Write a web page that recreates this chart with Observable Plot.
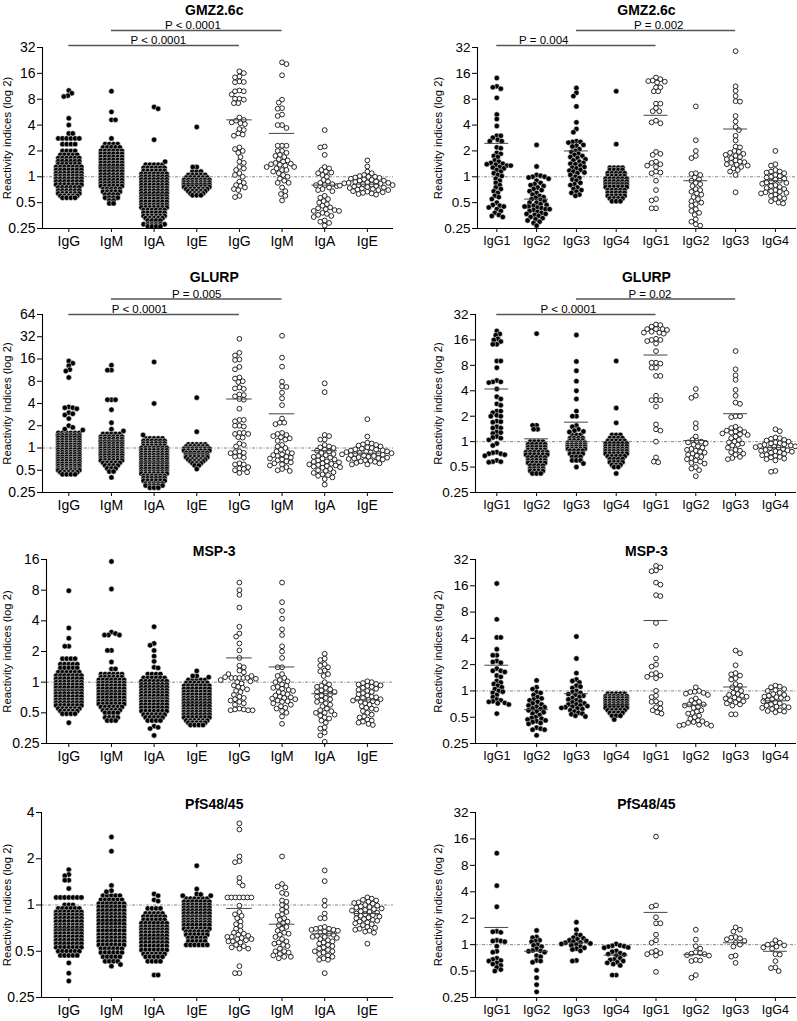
<!DOCTYPE html>
<html><head><meta charset="utf-8">
<script src="https://cdn.jsdelivr.net/npm/d3@7"></script>
<script src="https://cdn.jsdelivr.net/npm/@observablehq/plot@0.6"></script>
<style>
body{margin:0;background:#fff;}
#fig{position:relative;width:797px;height:1021px;overflow:hidden;background:#fff;}
#fig svg{position:absolute;overflow:visible;}
</style>
</head><body><div id="fig"></div>
<script>
// ---------- categories ----------
const isoLeft = ["IgG","IgM","IgA","IgE","IgG","IgM","IgA","IgE"];
const isoRight = ["IgG1","IgG2","IgG3","IgG4","IgG1","IgG2","IgG3","IgG4"];
const yTicks = [0.25,0.5,1,2,4,8,16,32,64];
const yLabel = "Reactivity indices (log 2)";

// ---------- data: each group = list of values; [v,n] = a row of n dots at value v ----------
const gmz_iso = [
 [10.1,9.4,8.8,8.6,4.8,4.0,3.2,3.2,[2.8,6],[2.4,4],[2.0,4],[1.8,5],[1.65,6],[1.52,6],[1.4,6],[1.3,7],[1.2,7],[1.1,7],[1.02,7],[0.95,7],[0.88,7],[0.81,7],[0.75,6],[0.69,6],[0.64,6],[0.6,5],[0.57,4]],
 [9.9,5.7,4.6,4.6,2.8,[2.4,4],[2.2,5],[2.0,6],[1.85,6],[1.7,6],[1.57,6],[1.45,6],[1.34,6],[1.24,6],[1.15,6],[1.06,6],[0.98,6],[0.91,6],[0.84,6],[0.78,6],[0.72,5],[0.67,5],[0.62,4],[0.57,4],[0.53,2],[0.49,2]],
 [6.5,6.2,2.7,1.5,[1.38,5],[1.27,6],[1.17,6],[1.08,7],[1.0,7],[0.93,7],[0.86,7],[0.8,7],[0.74,7],[0.69,7],[0.64,7],[0.59,7],[0.55,7],[0.51,7],[0.47,7],[0.44,7],[0.41,6],[0.38,6],[0.35,6],[0.33,5],[0.31,4],[0.28,6],[0.265,4]],
 [3.8,1.3,1.3,[1.15,3],[1.05,5],[0.98,6],[0.92,7],[0.86,7],[0.81,7],[0.76,7],[0.72,6],[0.68,5],[0.64,4],[0.61,3]],
 [16.9,16.1,14.7,14.4,12.9,12.7,12.6,10.1,9.9,9.9,9.1,8.1,8.1,7.9,7.2,7.2,4.9,4.6,4.5,4.3,4.2,4.1,3.6,3.5,3.2,3.1,3.0,2.2,2.1,2.0,1.9,1.7,1.5,1.45,1.3,1.25,1.2,1.1,1.05,1.0,0.88,0.85,0.8,0.78,0.75,0.72,0.7,0.6,0.58],
 [21.5,20.5,15.2,7.9,7.3,6.3,6.2,5.3,5.1,4.0,4.0,3.7,2.3,2.3,2.3,2.0,2.0,1.9,1.8,1.75,1.7,1.6,1.55,1.5,1.45,1.42,1.4,1.38,1.35,1.3,1.3,1.25,1.2,1.2,1.15,1.1,1.05,1.0,0.95,0.9,0.85,0.85,0.75,0.68,0.63,0.6,0.53],
 [3.5,2.25,2.2,1.8,1.3,1.25,1.2,1.15,1.12,1.1,1.05,1.0,0.92,0.88,0.85,0.82,0.8,0.8,0.78,0.75,0.72,0.7,0.68,0.6,0.57,0.55,0.52,0.5,0.48,0.46,0.44,0.43,0.42,0.41,0.4,0.4,0.38,0.37,0.36,0.35,0.34,0.31,0.3,0.29,0.27],
 [1.55,1.32,1.15,1.1,1.05,1.02,1.0,1.0,0.98,0.97,0.95,0.93,0.92,0.9,0.9,0.88,0.87,0.86,0.85,0.85,0.84,0.83,0.82,0.81,0.8,0.8,0.79,0.78,0.77,0.76,0.75,0.74,0.73,0.72,0.71,0.7,0.7,0.68,0.67,0.66,0.65,0.64,0.63,0.62]
];
const gmz_iso_mean = [1.5,1.3,0.62,0.82,4.6,3.2,0.8,0.82];

const gmz_sub = [
 [14.1,11.3,11.0,10.6,8.3,5.3,4.7,3.9,3.0,3.0,2.85,2.7,2.6,2.6,2.2,2.15,1.9,1.85,1.75,1.7,1.55,1.5,1.45,1.42,1.4,1.38,1.35,1.35,1.3,1.28,1.25,1.2,1.15,1.1,1.05,1.02,0.95,0.9,0.85,0.8,0.75,0.72,0.68,0.65,0.6,0.58,0.55,0.5,0.47,0.46,0.45,0.44,0.42,0.4,0.38,0.36,0.35,0.34],
 [2.35,1.32,1.05,1.03,1.0,1.0,0.98,0.95,0.9,0.85,0.82,0.8,0.78,0.75,0.72,0.7,0.68,0.65,0.62,0.6,0.58,0.57,0.55,0.54,0.52,0.5,0.5,0.48,0.47,0.46,0.45,0.45,0.44,0.43,0.42,0.42,0.41,0.4,0.39,0.38,0.37,0.37,0.36,0.35,0.34,0.33,0.32,0.31,0.3,0.29,0.27],
 [10.8,9.5,8.7,6.6,4.3,3.6,3.3,2.6,2.55,2.55,2.5,2.35,2.3,2.25,2.1,2.0,1.95,1.85,1.8,1.75,1.7,1.65,1.6,1.55,1.5,1.45,1.42,1.4,1.35,1.3,1.28,1.25,1.2,1.18,1.15,1.12,1.1,1.05,1.0,0.97,0.93,0.9,0.85,0.82,0.8,0.75,0.72,0.7,0.67,0.65,0.62,0.6],
 [9.9,2.4,[1.28,4],[1.2,4],[1.1,5],[1.02,5],[0.95,6],[0.88,6],[0.82,6],[0.76,6],[0.7,5],[0.65,5],[0.6,5],[0.56,4],[0.52,3]],
 [14.3,13.7,13.2,13.0,12.8,12.5,11.0,11.0,9.9,9.9,7.1,7.1,6.3,5.8,5.8,4.5,4.3,4.2,1.95,1.85,1.8,1.5,1.45,1.4,1.35,1.3,1.15,1.12,1.1,0.9,0.7,0.55,0.53,0.43,0.43],
 [6.6,2.66,2.0,1.75,1.65,1.1,1.08,1.05,0.98,0.93,0.9,0.85,0.82,0.78,0.72,0.7,0.67,0.64,0.62,0.58,0.55,0.52,0.5,0.48,0.46,0.42,0.4,0.38,0.36,0.32,0.3,0.28,0.27],
 [29,11.3,10.0,8.7,7.6,7.5,5.1,4.4,3.8,3.5,3.0,2.65,2.25,2.2,2.0,1.95,1.9,1.85,1.8,1.75,1.7,1.65,1.6,1.55,1.5,1.48,1.45,1.4,1.38,1.35,1.3,1.25,1.2,1.15,1.05,0.66],
 [2.0,1.4,1.35,1.2,1.15,1.15,1.12,1.1,1.05,1.02,1.0,0.98,0.95,0.93,0.9,0.88,0.86,0.85,0.83,0.8,0.78,0.76,0.74,0.72,0.7,0.68,0.67,0.66,0.65,0.64,0.62,0.6,0.58,0.56,0.55,0.52,0.5,0.49]
];
const gmz_sub_mean = [2.45,0.55,2.0,0.85,5.2,0.9,3.6,0.9];

const glurp_iso = [
 [15,14,13,11.5,11,9,3.6,3.5,3.5,3.4,3.0,2.9,2.8,2.5,2.0,1.9,1.8,1.75,[1.6,6],[1.48,6],[1.37,6],[1.27,6],[1.18,6],[1.1,6],[1.02,6],[0.95,6],[0.88,6],[0.82,6],[0.76,6],[0.71,6],[0.66,6],[0.61,6],[0.57,6],[0.53,6],[0.5,6],[0.47,5],[0.44,4]],
 [13.2,11.3,11.3,4.5,4.5,4.5,3.3,2.2,1.8,1.7,[1.55,5],[1.42,6],[1.32,6],[1.22,6],[1.13,6],[1.05,6],[0.98,6],[0.91,6],[0.85,6],[0.79,6],[0.73,6],[0.68,6],[0.63,5],[0.58,4],[0.53,3],[0.48,2],0.4],
 [14.6,4.0,1.5,[1.35,5],[1.25,6],[1.15,6],[1.07,6],[1.0,7],[0.93,7],[0.86,7],[0.8,7],[0.74,7],[0.69,7],[0.64,7],[0.6,7],[0.56,7],[0.52,7],[0.48,7],[0.45,7],[0.42,6],[0.39,6],[0.36,6],[0.33,5],[0.31,5],[0.29,3]],
 [4.8,1.66,[1.12,5],[1.05,6],[0.98,7],[0.92,7],[0.86,6],[0.8,6],[0.75,6],[0.7,5],[0.66,4],[0.62,3],[0.58,2],0.52],
 [30,19.4,17.9,15.8,15.5,12.5,11.6,9.0,8.7,8.0,7.8,6.6,6.4,6.3,5.3,5.2,5.0,4.6,4.5,3.4,2.4,2.4,2.3,2.0,2.0,1.95,1.6,1.6,1.55,1.55,1.4,1.38,1.15,1.1,1.05,0.9,0.88,0.86,0.85,0.78,0.76,0.74,0.62,0.6,0.6,0.55,0.53,0.52,0.5,0.47,0.46],
 [33,16.7,12.6,7.9,6.8,6.7,5.6,4.7,3.8,2.5,2.2,2.2,2.1,1.6,1.55,1.5,1.45,1.4,1.35,1.3,1.25,1.1,1.05,1.0,0.95,0.9,0.88,0.85,0.82,0.8,0.78,0.76,0.74,0.72,0.7,0.68,0.66,0.64,0.62,0.6,0.58,0.55,0.52,0.5,0.49],
 [7.5,5.7,1.5,1.45,1.3,1.3,1.1,1.05,1.02,1.0,0.95,0.92,0.9,0.86,0.83,0.8,0.78,0.76,0.74,0.72,0.7,0.68,0.66,0.65,0.64,0.62,0.61,0.6,0.59,0.58,0.57,0.56,0.55,0.54,0.52,0.5,0.49,0.47,0.46,0.44,0.43,0.42,0.4,0.38,0.32],
 [2.45,1.43,1.18,1.15,1.12,1.1,1.08,1.05,1.02,1.0,0.98,0.96,0.95,0.93,0.92,0.9,0.89,0.88,0.87,0.86,0.85,0.84,0.83,0.82,0.81,0.8,0.79,0.78,0.76,0.75,0.74,0.73,0.72,0.71,0.7,0.68,0.67,0.66,0.65,0.63,0.62,0.6,0.6]
];
const glurp_iso_mean = [1.5,1.25,0.65,0.85,4.6,2.9,0.92,0.85];

const glurp_sub = [
 [20.4,18.8,18.2,16.5,16.0,15.3,14.2,14.2,9.0,9.0,7.5,5.3,5.1,5.1,5.0,4.2,3.4,3.2,2.8,2.7,2.3,2.3,2.2,2.05,2.0,2.0,1.75,1.72,1.7,1.5,1.45,1.45,1.3,1.28,1.25,1.15,1.12,1.1,1.05,0.95,0.9,0.75,0.74,0.72,0.72,0.7,0.68,0.6,0.58,0.58,0.57],
 [19,1.56,1.56,1.4,1.4,[1.0,4],[0.93,5],[0.86,5],[0.8,5],[0.75,6],[0.7,6],[0.65,5],[0.6,5],[0.56,5],[0.52,4],[0.48,4],[0.45,4],[0.42,3]],
 [18.3,8.9,6.9,5.2,4.0,3.2,2.3,2.0,2.0,1.55,1.5,1.4,1.35,1.32,1.3,[1.2,3],[1.1,4],[1.03,4],[0.97,5],[0.92,5],[0.87,5],[0.82,5],[0.78,4],[0.72,4],[0.66,3],[0.6,3],0.55,0.5],
 [9,2.5,1.67,[1.2,3],[1.1,4],[1.02,5],[0.95,6],[0.88,6],[0.82,6],[0.77,6],[0.72,6],[0.67,5],[0.62,4],[0.57,4],[0.53,3],[0.5,2],0.42],
 [24.4,24,23,21.5,21.5,21.5,21,20,19.5,19.5,19,16.5,16,16,15.5,14.5,11.8,8.6,8.6,8.4,7.5,7.5,6.0,6.0,3.5,3.1,3.1,3.1,2.6,1.6,1.4,1.35,1.0,0.65,0.58,0.57],
 [4.2,3.5,3.3,1.65,1.45,1.15,1.05,1.02,1.0,0.98,0.95,0.92,0.88,0.85,0.82,0.8,0.78,0.76,0.74,0.72,0.7,0.68,0.66,0.64,0.62,0.6,0.58,0.56,0.55,0.5,0.48,0.46,0.39],
 [11.8,7.2,6.1,5.4,4.1,3.5,2.9,2.8,2.0,2.0,1.95,1.5,1.45,1.4,1.35,1.32,1.3,1.28,1.25,1.22,1.2,1.15,1.1,1.05,1.0,0.98,0.95,0.92,0.9,0.85,0.8,0.78,0.75,0.72,0.7,0.66,0.64,0.62],
 [1.4,1.33,1.12,1.1,1.08,1.05,1.03,1.0,0.98,0.96,0.95,0.93,0.92,0.9,0.89,0.88,0.87,0.86,0.85,0.84,0.82,0.8,0.79,0.78,0.77,0.76,0.75,0.74,0.72,0.7,0.69,0.68,0.66,0.65,0.63,0.62,0.6,0.45,0.44]
];
const glurp_sub_mean = [4.2,1.08,1.7,0.95,10.6,1.03,2.14,0.85];

const msp3_iso = [
 [7.9,3.4,2.7,2.25,2.25,[1.7,4],[1.5,5],[1.38,5],[1.25,6],[1.16,7],[1.08,7],[1.0,7],[0.94,7],[0.88,7],[0.82,7],[0.77,7],[0.72,7],[0.67,7],[0.63,7],[0.59,7],[0.55,6],[0.52,5],[0.49,4],0.4],
 [15.3,8.2,3.1,3.0,2.9,2.9,2.9,2.05,2.05,1.58,1.35,1.35,[1.2,6],[1.12,6],[1.05,7],[0.98,7],[0.92,7],[0.86,7],[0.8,7],[0.75,7],[0.7,7],[0.65,7],[0.61,7],[0.57,6],[0.53,5],[0.5,4],[0.45,4],[0.42,3]],
 [3.5,2.4,2.3,2.05,1.8,1.6,1.4,1.38,[1.2,4],[1.1,6],[1.02,7],[0.95,7],[0.89,7],[0.83,7],[0.78,7],[0.73,7],[0.68,7],[0.64,7],[0.6,7],[0.56,7],[0.52,7],[0.48,6],[0.45,5],[0.42,4],0.37,0.36,0.35,0.3],
 [1.29,1.15,1.15,1.12,[1.05,5],[0.98,6],[0.92,7],[0.86,7],[0.8,7],[0.75,7],[0.7,7],[0.66,7],[0.62,7],[0.58,7],[0.54,7],[0.51,7],[0.48,7],[0.45,7],[0.42,6],[0.4,5],[0.38,4]],
 [9.5,8.0,7.2,5.4,3.5,3.0,2.8,2.4,2.05,1.73,1.45,1.4,1.3,1.25,1.2,1.15,1.12,[1.1,5],1.08,1.05,1.02,1.0,0.97,0.93,0.9,0.88,0.85,0.82,0.8,0.75,0.72,0.7,0.68,0.66,0.64,0.62,0.6,0.55,0.54,0.54,0.53,0.53,0.53],
 [9.5,6.1,5.0,4.2,3.3,2.9,2.25,2.0,1.73,1.4,1.4,1.2,1.15,1.1,1.05,1.02,1.0,0.95,0.92,0.9,0.88,0.86,0.84,0.82,0.8,0.78,0.76,0.74,0.72,0.71,0.7,0.69,0.68,0.66,0.65,0.64,0.62,0.6,0.58,0.56,0.55,0.52,0.5,0.46,0.39],
 [1.9,1.7,1.65,1.5,1.45,1.4,1.3,1.28,1.2,1.15,1.0,0.95,0.92,0.9,0.88,0.85,0.83,0.8,0.8,0.78,0.76,0.74,0.72,0.7,0.68,0.66,0.64,0.62,0.6,0.58,0.55,0.53,0.52,0.5,0.5,0.48,0.47,0.45,0.44,0.42,0.4,0.36,0.35,0.32,0.3,0.26],
 [1.02,1.0,0.98,0.96,0.95,0.93,0.92,0.9,0.88,0.86,0.84,0.82,0.8,0.78,0.76,0.74,0.72,0.71,0.7,0.69,0.68,0.67,0.66,0.65,0.64,0.63,0.62,0.6,0.58,0.56,0.55,0.54,0.52,0.5,0.48,0.46,0.45,0.43,0.42,0.41,0.4,0.39,0.38]
];
const msp3_iso_mean = [0.85,0.8,0.7,0.62,1.73,1.41,0.77,0.67];

const msp3_sub = [
 [17,6.6,4.1,4.1,3.0,2.56,2.56,2.2,2.15,2.1,1.8,1.7,1.7,1.65,1.5,1.45,1.3,1.25,1.2,1.15,1.1,1.05,1.0,0.98,0.95,0.9,0.85,0.8,0.78,0.76,0.75,0.73,0.72,0.7,0.55],
 [1.32,1.1,1.05,0.97,0.95,0.9,0.85,0.82,0.8,0.78,0.75,0.72,0.7,0.68,0.66,0.65,0.63,0.62,0.6,0.58,0.57,0.55,0.53,0.5,0.49,0.48,0.47,0.46,0.45,0.44,0.43,0.42,0.38,0.37,0.36,0.36,0.31],
 [4.2,2.35,1.6,1.35,1.3,1.25,1.15,1.12,1.08,1.0,0.97,0.95,0.92,0.9,0.88,0.85,0.83,0.8,0.78,0.76,0.74,0.72,0.7,0.7,0.68,0.67,0.66,0.65,0.64,0.63,0.62,0.6,0.58,0.56,0.55,0.54,0.52,0.51],
 [[0.93,5],[0.87,6],[0.82,6],[0.77,6],[0.72,6],[0.68,6],[0.64,6],[0.6,5],[0.56,4],[0.52,3],0.47],
 [27,26,24,23.5,17.4,16.5,12.5,12.2,6.0,3.3,2.35,2.0,1.9,1.6,1.55,1.5,1.45,1.4,1.0,0.88,0.85,0.76,0.75,0.72,0.65,0.63,0.6,0.57,0.55],
 [1.1,1.0,0.98,0.97,0.95,0.93,0.9,0.82,0.78,0.75,0.72,0.7,0.7,0.68,0.66,0.64,0.6,0.58,0.56,0.55,0.52,0.5,0.48,0.46,0.45,0.44,0.43,0.42,0.41,0.41,0.4,0.4],
 [2.9,2.7,1.97,1.6,1.55,1.5,1.4,1.35,1.2,1.15,1.1,1.05,1.0,0.95,0.92,0.9,0.88,0.86,0.84,0.82,0.8,0.78,0.76,0.74,0.72,0.7,0.68,0.54,0.54],
 [1.15,1.12,1.1,1.05,1.02,1.0,0.95,0.92,0.9,0.88,0.86,0.85,0.83,0.82,0.8,0.78,0.76,0.74,0.72,0.7,0.68,0.67,0.66,0.65,0.64,0.62,0.6,0.59,0.58,0.57]
];
const msp3_sub_mean = [1.97,0.61,0.93,0.68,6.4,0.69,1.11,0.77];

const pfs_iso = [
 [1.7,1.58,1.55,1.45,1.45,1.28,[1.12,7],[1.0,3],[0.95,6],[0.9,7],[0.86,7],[0.82,7],[0.78,7],[0.74,7],[0.71,7],[0.68,7],[0.65,7],[0.62,7],[0.59,7],[0.56,7],[0.53,7],[0.5,6],[0.47,5],0.42,0.36,0.32],
 [2.77,2.24,1.34,1.24,1.22,[1.15,5],[1.08,6],[1.02,7],[0.97,7],[0.92,7],[0.87,7],[0.83,7],[0.79,7],[0.75,7],[0.71,7],[0.68,7],[0.64,7],[0.61,7],[0.58,7],[0.55,7],[0.52,6],[0.49,6],[0.46,5],[0.43,4],0.41,0.4],
 [1.18,1.15,1.08,1.06,[0.95,4],[0.88,5],[0.84,6],[0.8,6],[0.76,7],[0.72,7],[0.69,7],[0.66,7],[0.63,7],[0.6,7],[0.57,7],[0.54,7],[0.51,7],[0.48,6],[0.46,5],[0.43,4],0.35,0.35],
 [1.8,1.27,1.18,1.17,1.15,1.15,[1.1,6],[1.05,7],[1.0,7],[0.96,7],[0.92,7],[0.88,7],[0.84,7],[0.8,7],[0.77,7],[0.74,7],[0.7,7],[0.67,6],[0.64,6],[0.61,5],[0.58,5],[0.55,6]],
 [3.4,3.1,2.07,1.93,1.9,1.5,1.4,1.34,[1.12,7],0.99,0.9,0.87,0.85,0.82,0.78,0.75,0.73,0.7,0.68,0.66,0.65,0.64,0.63,0.62,0.62,0.61,0.6,0.6,0.59,0.58,0.58,0.57,0.55,0.54,0.53,0.52,0.52,0.4,0.36,0.36],
 [2.07,1.37,1.32,1.3,1.2,1.18,1.07,1.05,1.0,0.97,0.93,0.9,0.87,0.85,0.82,0.8,0.78,0.76,0.74,0.72,0.7,0.68,0.66,0.65,0.64,0.62,0.6,0.58,0.57,0.56,0.55,0.54,0.52,0.5,0.5,0.49,0.48,0.47,0.46,0.46,0.45],
 [1.68,1.43,1.07,0.99,0.88,0.82,0.82,0.72,0.71,0.7,0.7,0.69,0.69,0.68,0.67,0.66,0.65,0.64,0.63,0.62,0.62,0.61,0.6,0.59,0.58,0.57,0.56,0.55,0.54,0.53,0.52,0.51,0.5,0.5,0.49,0.48,0.47,0.46,0.45,0.44,0.44,0.36],
 [1.12,1.1,1.08,1.07,1.05,1.04,1.03,1.02,1.0,0.99,0.98,0.97,0.96,0.95,0.94,0.93,0.92,0.91,0.9,0.89,0.88,0.87,0.86,0.85,0.84,0.83,0.82,0.81,0.8,0.79,0.78,0.77,0.76,0.75,0.74,0.72,0.71,0.7,0.69,0.68,0.67,0.66,0.56]
];
const pfs_iso_mean = [0.7,0.78,0.62,0.85,0.95,0.75,0.65,0.88];

const pfs_sub = [
 [11,4.7,2.7,1.42,1.4,1.38,1.12,1.1,1.1,1.08,0.96,0.84,0.82,0.7,0.68,0.66,0.65,0.62,0.6,0.58,0.55,0.52,0.5],
 [1.45,1.22,1.2,1.12,1.1,1.08,1.0,0.98,0.95,0.9,0.86,0.85,0.84,0.82,0.75,0.73,0.66,0.65,0.63,0.51,0.42,0.35,0.29],
 [1.8,1.48,1.3,1.28,1.2,1.18,1.15,1.12,1.1,1.08,1.06,1.05,1.03,1.02,1.0,0.98,0.95,0.92,0.9,0.88,0.85,0.66,0.65],
 [1.02,0.98,0.97,0.96,0.95,0.93,0.92,0.85,0.83,0.8,0.78,0.77,0.75,0.7,0.68,0.67,0.65,0.63,0.62,0.6,0.58,0.45,0.45],
 [17,2.8,2.7,2.05,1.75,1.75,1.3,1.12,1.05,0.85,0.82,0.8,0.78,0.75,0.49],
 [1.48,1.14,0.96,0.9,0.82,0.8,0.79,0.78,0.76,0.75,0.67,0.66,0.65,0.45,0.42],
 [1.57,1.48,1.41,1.22,1.2,1.18,1.15,1.1,1.05,1.0,0.95,0.75,0.73,0.62],
 [1.12,1.05,1.02,1.0,0.98,0.95,0.93,0.9,0.78,0.77,0.65,0.55,0.54,0.5]
];
const pfs_sub_mean = [1.57,0.84,1.05,0.76,2.33,0.77,1.05,0.84];

// ---------- titles / P-value brackets: [from group, to group, label position, label] ----------
const titles = ["GMZ2.6c","GLURP","MSP-3","PfS48/45"];
const gmz_iso_p = [[1,5,2.91,"P < 0.0001"],[0,4,2.1,"P < 0.0001"]];
const gmz_sub_p = [[2,6,4.07,"P = 0.002"],[0,4,1.18,"P = 0.004"]];
const glurp_iso_p = [[1,5,3.0,"P = 0.005"],[0,4,1.66,"P < 0.0001"]];
const glurp_sub_p = [[2,6,3.85,"P = 0.02"],[0,4,1.8,"P < 0.0001"]];

// ---------- fonts ----------
const FONT = '"Liberation Sans", Arial, Helvetica, sans-serif';

// ---------- layout ----------
const rows = [
  {top:0,   h:262, mt:47, mb:34, titleB:14, offs:[17,2]},
  {top:262, h:258, mt:52, mb:28, titleB:19, offs:[15.5,0]},
  {top:520, h:260, mt:39, mb:37, titleB:35, offs:[]},
  {top:780, h:241, mt:32, mb:24, titleB:28, offs:[]}
];
const sides = {
  L:{left:0,   W:398, x0:68.3, sp:42.65, fr:393, mls:[42,42,46,41], cats:isoLeft,  titleX:3.41, labX:7,  tickFs:14,   catFs:14},
  R:{left:398, W:399, x0:98.3, sp:39.8,  fr:398, mls:[79,77,77,77], cats:isoRight, titleX:3.76, labX:40, tickFs:13.5, catFs:12.5}
};
const panels = [
  {row:0, side:"L", data:gmz_iso,   means:gmz_iso_mean,   ymax:32, p:gmz_iso_p},
  {row:0, side:"R", data:gmz_sub,   means:gmz_sub_mean,   ymax:32, p:gmz_sub_p},
  {row:1, side:"L", data:glurp_iso, means:glurp_iso_mean, ymax:64, p:glurp_iso_p},
  {row:1, side:"R", data:glurp_sub, means:glurp_sub_mean, ymax:32, p:glurp_sub_p},
  {row:2, side:"L", data:msp3_iso,  means:msp3_iso_mean,  ymax:16, p:[]},
  {row:2, side:"R", data:msp3_sub,  means:msp3_sub_mean,  ymax:32, p:[]},
  {row:3, side:"L", data:pfs_iso,   means:pfs_iso_mean,   ymax:4,  p:[]},
  {row:3, side:"R", data:pfs_sub,   means:pfs_sub_mean,   ymax:32, p:[]}
];

// Prism-like layout: [v,n] rows are centred side by side; single values are swarmed around them
function swarm(groups, yPix, pxPerUnit){
  const out=[];
  groups.forEach((g,gi)=>{
    const open = gi>=4;
    const md = open ? 4.4 : 4.0;     // min distance between single dots (px)
    const rs = open ? 4.0 : 4.2;     // spacing inside a row (px)
    const placed=[], singles=[];
    g.forEach(e=>{
      if(Array.isArray(e)){
        const py=yPix(e[0]);
        for(let k=0;k<e[1];k++){ const off=(k-(e[1]-1)/2)*rs; placed.push([off,py]); out.push({x:gi+off/pxPerUnit,y:e[0],open}); }
      } else singles.push(e);
    });
    singles.sort((a,b)=>b-a);
    const step=md/4;
    singles.forEach((v,idx)=>{
      const py=yPix(v); const sgn = idx%2 ? 1 : -1;
      let off=0;
      for(let k=0;k<2000;k++){
        const c = k===0 ? 0 : (k%2===1 ? sgn : -sgn)*Math.ceil(k/2)*step;
        let ok=true;
        for(const p of placed){ const dx=p[0]-c, dy=p[1]-py; if(dx*dx+dy*dy<md*md-1e-6){ok=false;break;} }
        if(ok){off=c;break;}
      }
      placed.push([off,py]);
      out.push({x:gi+off/pxPerUnit, y:v, open});
    });
  });
  return out;
}

const fig = document.getElementById("fig");
panels.forEach(P=>{
  const R = rows[P.row], S = sides[P.side];
  const ml = S.mls[P.row], mr = S.W - S.fr;
  const xmin = (ml - S.x0)/S.sp, xmax = (S.fr - S.x0)/S.sp;
  const yPix = d3.scaleLog().base(2).domain([0.25,P.ymax]).range([R.h-R.mb, R.mt]);
  const pts = swarm(P.data, yPix, S.sp);
  const meanRows = P.means.map((m,i)=>({i,m}));
  const ticks = yTicks.filter(t=>t<=P.ymax);
  const marks = [
    Plot.ruleY([1],{stroke:"#777",strokeWidth:0.9,strokeDasharray:"3,1.5,1,1.5"}),
    Plot.dot(pts.filter(d=>!d.open),{x:"x",y:"y",r:2.7,fill:"#000",stroke:"#fff",strokeWidth:0.5}),
    Plot.dot(pts.filter(d=>d.open),{x:"x",y:"y",r:2.4,fill:"#fff",stroke:"#111",strokeWidth:0.9}),
    Plot.ruleY(meanRows,{y:"m",x1:d=>d.i-0.3,x2:d=>d.i+0.3,stroke:"#444",strokeWidth:1}),
    Plot.ruleX([xmin],{stroke:"#000",strokeWidth:1.1}),
    Plot.ruleY([0.25],{stroke:"#000",strokeWidth:1.1}),
    Plot.axisY({ticks, tickFormat:d=>String(d), tickSize:5, tickPadding:2, fontSize:S.tickFs, label:null}),
    Plot.axisX({ticks:d3.range(8), tickFormat:i=>S.cats[i], tickSize:4, tickPadding:4, fontSize:S.catFs, label:null}),
    Plot.text([yLabel],{frameAnchor:"left",rotate:-90,dx:S.labX-ml,textAnchor:"middle",lineAnchor:"middle",fontSize:11.3}),
    Plot.text([titles[P.row]],{x:S.titleX,y:P.ymax,dy:R.titleB-0.32*14-R.mt,textAnchor:"middle",lineAnchor:"middle",fontSize:14,fontWeight:"bold"})
  ];
  P.p.forEach((b,bi)=>{
    const off = R.offs[bi];
    marks.push(Plot.ruleY([P.ymax],{x1:b[0],x2:b[1],dy:-off,stroke:"#555",strokeWidth:1.3}));
    marks.push(Plot.text([b[3]],{x:b[2],y:P.ymax,dy:-(off+1.5)-0.32*11.5,textAnchor:"middle",lineAnchor:"middle",fontSize:11.5}));
  });
  const svg = Plot.plot({
    width:S.W, height:R.h, marginLeft:ml, marginRight:mr, marginTop:R.mt, marginBottom:R.mb,
    x:{domain:[xmin,xmax], axis:null},
    y:{type:"log", base:2, domain:[0.25,P.ymax], axis:null},
    style:{fontFamily:FONT, fontSize:"14px", color:"#000", background:"transparent", overflow:"visible"},
    marks
  });
  svg.style.left = S.left+"px"; svg.style.top = R.top+"px";
  fig.appendChild(svg);
});
</script>
</body></html>
